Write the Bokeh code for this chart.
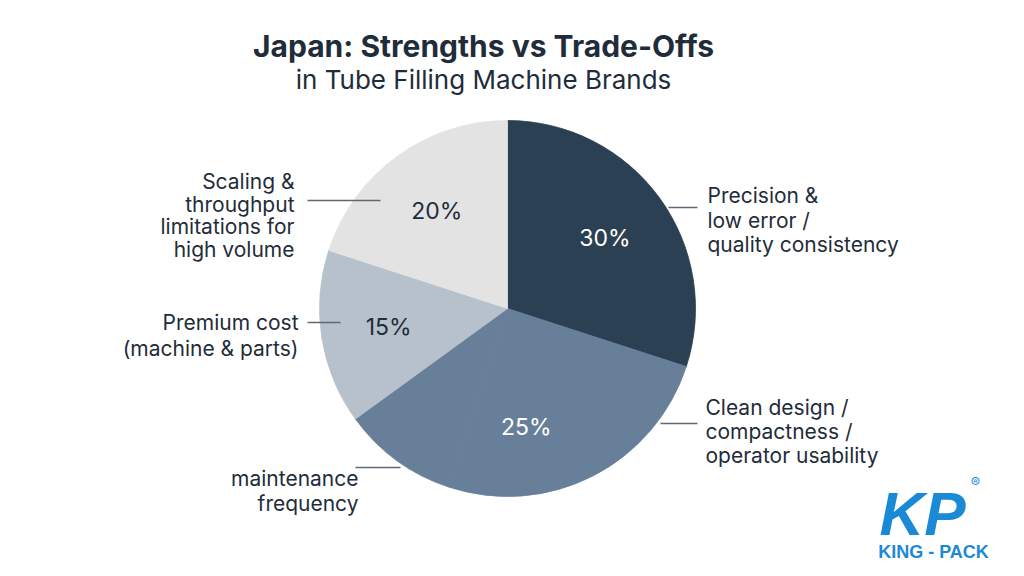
import math
from bokeh.plotting import figure
from bokeh.models import Range1d
from bokeh.core.properties import value
from bokeh.embed import file_html
from bokeh.resources import INLINE

# ---------------- data ----------------
categories = [
    "Precision & low error / quality consistency",
    "Clean design / compactness / operator usability",
    "maintenance frequency",
    "Premium cost (machine & parts)",
    "Scaling & throughput limitations for high volume",
]
label_lines = [
    ["Precision &", "low error /", "quality consistency"],
    ["Clean design /", "compactness /", "operator usability"],
    ["maintenance", "frequency"],
    ["Premium cost", "(machine & parts)"],
    ["Scaling &", "throughput", "limitations for", "high volume"],
]
values = [30, 25, 10, 15, 20]
pct_labels = ["30%", "25%", "", "15%", "20%"]
colors = ["#2b4053", "#687f99", "#687f99", "#b6c1cc", "#e3e3e3"]
pct_colors = ["#ffffff", "#ffffff", "#ffffff", "#1f2d3a", "#1f2d3a"]

title = "Japan: Strengths vs Trade-Offs"
subtitle = "in Tube Filling Machine Brands"
brand = "KING - PACK"

# ---------------- layout ----------------
W, H = 1008, 560
FONT = value("Inter")
TXT = "#1f2d3a"


def X(sx):
    return sx


def Y(sy):
    return 560 - sy


p = figure(width=W, height=H, output_backend="svg", toolbar_location=None,
           x_range=Range1d(0, W), y_range=Range1d(0, H), min_border=0)
p.axis.visible = False
p.grid.visible = False
p.outline_line_color = None
p.background_fill_color = "#ffffff"
p.border_fill_color = "#ffffff"

cx, cy, R = X(507), Y(308), 188
total = float(sum(values))
starts, ends = [], []
cum = 0.0
for v in values:
    a_end = math.radians(90 - cum / total * 360)
    cum += v
    a_start = math.radians(90 - cum / total * 360)
    starts.append(a_start)
    ends.append(a_end)

p.wedge(x=[cx] * len(values), y=[cy] * len(values), radius=R,
        start_angle=starts, end_angle=ends, direction="anticlock",
        fill_color=colors, line_color=colors, line_width=0.8)

# percentage labels (span includes following unlabeled slices)
px, py, pt, pc = [], [], [], []
i = 0
while i < len(values):
    j = i
    while j + 1 < len(values) and pct_labels[j + 1] == "":
        j += 1
    if pct_labels[i]:
        mid = (ends[i] + starts[j]) / 2
        px.append(cx + 0.64 * R * math.cos(mid))
        py.append(cy + 0.64 * R * math.sin(mid))
        pt.append(pct_labels[i])
        pc.append(pct_colors[i])
    i = j + 1
p.text(x=px, y=py, text=pt, text_color=pc, text_font=FONT, text_font_size="23px",
       text_align="center", text_baseline="middle")

# leader lines
leaders = [((668, 207), (697, 207)), ((660, 423), (697, 423)), ((355, 467), (400, 467)),
           ((307, 322), (340, 322)), ((307, 200), (380, 200))]
p.segment(x0=[X(a[0]) for a, b in leaders], y0=[Y(a[1]) for a, b in leaders],
          x1=[X(b[0]) for a, b in leaders], y1=[Y(b[1]) for a, b in leaders],
          line_color="#5f6974", line_width=1.5)

# category labels: (anchor x, first line y, align, spacing)
anchors = [(707, 195, "left", 24.5), (705, 407, "left", 24), (358, 478, "right", 25),
           (298, 322, "right", 26), (294, 181, "right", 22.7)]
lx, ly, lt, la = [], [], [], []
for lines, (ax, ay, al, sp) in zip(label_lines, anchors):
    for k, s in enumerate(lines):
        lx.append(X(ax))
        ly.append(Y(ay + k * sp))
        lt.append(s)
        la.append(al)
p.text(x=lx, y=ly, text=lt, text_align=la, text_baseline="middle", text_color=TXT,
       text_font=FONT, text_font_size="21px")

# title
p.text(x=[X(483)], y=[Y(45)], text=[title], text_align="center", text_baseline="middle",
       text_color=TXT, text_font=FONT, text_font_size="30px", text_font_style="bold")
p.text(x=[X(483)], y=[Y(79)], text=[subtitle], text_align="center", text_baseline="middle",
       text_color=TXT, text_font=FONT, text_font_size="26px")

# logo
BLUE = "#1b8ad6"
p.text(x=[X(922)], y=[Y(513)], text=["KP"], text_align="center", text_baseline="middle",
       text_color=BLUE, text_font=value("Liberation Sans"), text_font_size="62px",
       text_font_style="bold italic")
p.text(x=[X(975)], y=[Y(482)], text=["®"], text_align="center", text_baseline="middle",
       text_color=BLUE, text_font=FONT, text_font_size="14px")
p.text(x=[X(933)], y=[Y(551)], text=[brand], text_align="center", text_baseline="middle",
       text_color=BLUE, text_font=value("Liberation Sans"), text_font_size="18px",
       text_font_style="bold")

open("out.html", "w").write(file_html(p, INLINE))
